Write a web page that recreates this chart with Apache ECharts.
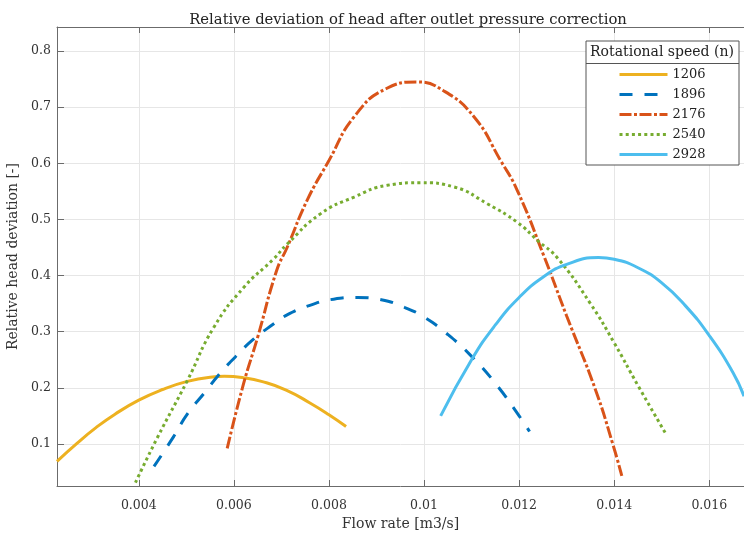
<!DOCTYPE html>
<html>
<head>
<meta charset="utf-8">
<script src="https://cdn.jsdelivr.net/npm/echarts@6/dist/echarts.min.js"></script>
<style>html,body{margin:0;padding:0;background:#fff}#c{width:744px;height:536px}</style>
</head>
<body>
<div id="c"></div>
<script>
// ---- data ----
var seriesNames = ['1206', '1896', '2176', '2540', '2928'];
var xTicks = [0.004, 0.006, 0.008, 0.01, 0.012, 0.014, 0.016];
var yTicks = [0.1, 0.2, 0.3, 0.4, 0.5, 0.6, 0.7, 0.8];

var n1206 = [[0.00228,0.069],[0.0027,0.101],[0.0031,0.129],[0.0035,0.153],[0.0040,0.178],[0.0045,0.197],[0.0050,0.211],[0.0055,0.219],[0.0058,0.2205],[0.0062,0.218],[0.0066,0.211],[0.0071,0.196],[0.0076,0.173],[0.0080,0.152],[0.00836,0.131]];
var n1896 = [[0.00432,0.060],[0.00474,0.114],[0.00502,0.153],[0.0054,0.193],[0.00568,0.223],[0.00603,0.255],[0.00642,0.287],[0.00684,0.314],[0.00712,0.330],[0.0076,0.347],[0.0081,0.358],[0.0086,0.361],[0.0091,0.357],[0.0096,0.343],[0.0100,0.326],[0.0105,0.295],[0.0110,0.256],[0.0115,0.208],[0.0120,0.150],[0.01222,0.122]];
var n2176 = [[0.00586,0.092],[0.0062,0.206],[0.0065,0.290],[0.0069,0.409],[0.00712,0.450],[0.00754,0.534],[0.0080,0.605],[0.00853,0.683],[0.0092,0.733],[0.00986,0.745],[0.0104,0.730],[0.01105,0.683],[0.01161,0.605],[0.01196,0.552],[0.01253,0.433],[0.0130,0.328],[0.0136,0.198],[0.01398,0.097],[0.01416,0.043]];
var n2540 = [[0.00393,0.031],[0.00439,0.111],[0.00502,0.2125],[0.00558,0.308],[0.00621,0.379],[0.00684,0.430],[0.00712,0.456],[0.00782,0.510],[0.00853,0.540],[0.00923,0.561],[0.00993,0.5655],[0.01063,0.558],[0.01133,0.528],[0.01196,0.495],[0.01239,0.4625],[0.01281,0.431],[0.0135,0.350],[0.0140,0.280],[0.0145,0.204],[0.0151,0.116]];
var n2928 = [[0.01035,0.150],[0.0110,0.250],[0.0115,0.312],[0.0120,0.361],[0.0125,0.397],[0.0130,0.420],[0.01367,0.432],[0.0140,0.429],[0.0145,0.414],[0.0150,0.387],[0.0155,0.346],[0.0160,0.293],[0.0165,0.227],[0.01673,0.185]];

var seriesData = [n1206, n1896, n2176, n2540, n2928];
var colors = ['#EDB120', '#0072BD', '#D95319', '#77AC30', '#4DBEEE'];
var dashes = ['solid', [13, 12], [12, 2.5, 3, 2.5], [3, 3.2], 'solid'];

var FONT = 'DejaVu Serif';
var AX = '#6b6b6b';
var chart = echarts.init(document.getElementById('c'), null, {renderer: 'canvas'});

var series = seriesNames.map(function (nm, i) {
  return {
    name: nm, type: 'line', data: seriesData[i], smooth: true, symbol: 'none', showSymbol: false,
    lineStyle: {color: colors[i], width: 3, type: dashes[i], cap: 'butt'},
    itemStyle: {color: colors[i]}, z: 3 + i, animation: false
  };
});

var option = {
  animation: false,
  backgroundColor: '#fff',
  title: {
    text: 'Relative deviation of head after outlet pressure correction',
    left: 403, top: 8, textAlign: 'center',
    textStyle: {fontFamily: FONT, fontSize: 14.8, fontWeight: 'normal', color: '#222'}
  },
  grid: {left: 57, right: 0, top: 27, bottom: 50, containLabel: false, outerBoundsMode: 'none'},
  xAxis: [{
    type: 'value', min: 0.00228, max: 0.01673, position: 'bottom',
    name: 'Flow rate [m3/s]', nameLocation: 'middle', nameGap: 27,
    nameTextStyle: {fontFamily: FONT, fontSize: 14, color: '#333'},
    axisLine: {show: true, onZero: false, lineStyle: {color: AX, width: 1}},
    axisTick: {show: true, inside: true, length: 6, customValues: xTicks, lineStyle: {color: AX}},
    axisLabel: {customValues: xTicks, margin: 13, fontFamily: FONT, fontSize: 12.5, color: '#333',
      formatter: function (v) { return String(+v.toFixed(3)); }},
    splitLine: {show: true, lineStyle: {color: '#e6e6e6', width: 1}}
  }, {
    type: 'value', min: 0.00228, max: 0.01673, position: 'top',
    axisLine: {show: true, onZero: false, lineStyle: {color: AX, width: 1}},
    axisTick: {show: true, inside: true, length: 6, customValues: xTicks, lineStyle: {color: AX}},
    axisLabel: {show: false}, splitLine: {show: false}
  }],
  yAxis: [{
    type: 'value', min: 0.025, max: 0.843,
    name: 'Relative head deviation [-]', nameLocation: 'middle', nameGap: 32,
    nameTextStyle: {fontFamily: FONT, fontSize: 14, color: '#333'},
    axisLine: {show: true, onZero: false, lineStyle: {color: AX, width: 1}},
    axisTick: {show: true, inside: true, length: 7, customValues: yTicks, lineStyle: {color: AX}},
    axisLabel: {customValues: yTicks, margin: 6, fontFamily: FONT, fontSize: 12.5, color: '#333',
      formatter: function (v) { return String(+v.toFixed(1)); }},
    splitLine: {show: true, lineStyle: {color: '#e6e6e6', width: 1}}
  }],
  legend: {
    orient: 'vertical', left: 618, top: 68, padding: 0, itemWidth: 48, itemHeight: 14, itemGap: 7,
    data: seriesNames, selectedMode: false,
    itemStyle: {opacity: 0},
    lineStyle: {width: 3},
    textStyle: {fontFamily: FONT, fontSize: 13, color: '#222'}, z: 20
  },
  graphic: [
    {type: 'rect', shape: {x: 586, y: 41, width: 153, height: 124}, style: {fill: '#fff', stroke: '#555', lineWidth: 1}, z: 15},
    {type: 'line', shape: {x1: 586, y1: 63.5, x2: 739, y2: 63.5}, style: {stroke: '#555', lineWidth: 1}, z: 16},
    {type: 'text', x: 662, y: 52, style: {text: 'Rotational speed (n)', font: '14px "DejaVu Serif"', fill: '#222', align: 'center', verticalAlign: 'middle'}, z: 16}
  ],
  series: series
};
chart.setOption(option);
</script>
</body>
</html>
